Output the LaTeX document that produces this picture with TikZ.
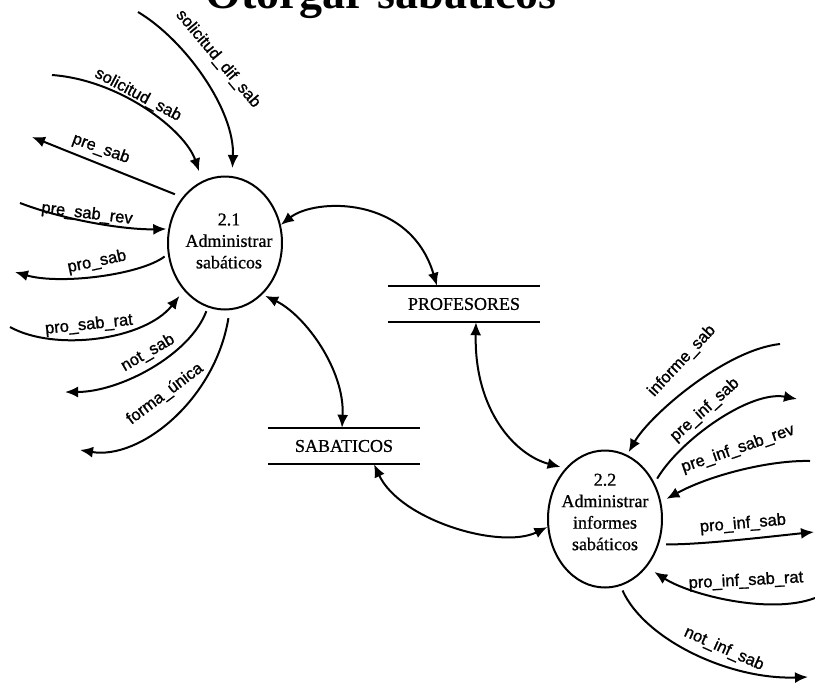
\documentclass[tikz,border=0pt]{standalone}
\usepackage{fontspec}
\setmainfont{Liberation Serif}
\newfontfamily\procfont{Liberation Serif}[FakeBold=0.8]
\newfontfamily\flowfont{Liberation Sans}[FakeBold=1.2]
\usetikzlibrary{arrows.meta,shapes.geometric}

\tikzset{
  >={Latex[length=13pt,width=11pt]},
  proc/.style={ellipse, draw, line width=2pt, minimum width=114pt,
    minimum height=133pt, inner sep=0pt},
  proctext/.style={font=\procfont\fontsize{18}{21.5}\selectfont, align=center, inner sep=0pt},
  store/.style={minimum width=152pt, minimum height=36pt, inner sep=0pt,
    font=\procfont\fontsize{18}{22}\selectfont},
  storeline/.style={line width=1.6pt},
  flow/.style={line width=2pt},
  lbl/.style={font=\flowfont\fontsize{16.5}{19}\selectfont, inner sep=0pt},
  titlestyle/.style={font=\bfseries\fontsize{46}{50}\selectfont, inner sep=0pt}
}

\begin{document}
\begin{tikzpicture}[x=1pt, y=-1pt]
\useasboundingbox (0,0) rectangle (815,686);

% title (its upper part runs off the page)
\node[titlestyle, anchor=base] (title) at (381,8) {Otorgar sabáticos};

% processes
\node[proc, label={[proctext, xshift=4pt, yshift=2pt]center:{2.1\\Administrar\\sabáticos}}] (c1) at (225,243) {};
\node[proc, minimum height=137pt, label={[proctext, yshift=7pt]center:{2.2\\Administrar\\informes\\sabáticos}}] (c2) at (605,519) {};

% data stores
\node[store] (p) at (464,304) {PROFESORES};
\draw[storeline] (p.north west) -- (p.north east) (p.south west) -- (p.south east);
\node[store] (s) at (344,446) {SABATICOS};
\draw[storeline] (s.north west) -- (s.north east) (s.south west) -- (s.south east);

% links between processes and stores
\draw[flow, <->] (c1.18) .. controls (315,198) and (410,195) .. ([xshift=-27pt]p.north);
\draw[flow, <->, shorten <=3pt] (c1.306) .. controls (305,315) and (345,370) .. ([xshift=-2pt]s.north);
\draw[flow, <->, shorten >=5pt] ([xshift=12pt]p.south) .. controls (474,410) and (515,455) .. (c2.128);
\draw[flow, <->] ([xshift=30pt]s.south) .. controls (400,520) and (500,550) .. (c2.188);

% external flows of 2.1
\coordinate (a0) at (138,12);
\coordinate (a1) at (52,75);
\coordinate (a2) at (32,137);
\coordinate (a3) at (20,203);
\coordinate (a4) at (15,272);
\coordinate (a5) at (10,327);
\coordinate (a6) at (65,392);
\coordinate (a7) at (80,450);

\draw[flow, ->, shorten >=8pt] (a0) .. controls (185,40) and (235,110) .. (c1.84);
\draw[flow, ->, shorten >=10pt] (a1) .. controls (120,80) and (185,130) .. (c1.110);
\draw[flow, ->, shorten <=8pt] (c1.133) -- (a2);
\draw[flow, ->, shorten >=2pt] (a3) .. controls (70,222) and (130,230) .. (c1.166);
\draw[flow, ->, shorten <=4pt] (c1.191) .. controls (140,275) and (60,285) .. (a4);
\draw[flow, ->, shorten >=7pt] (a5) .. controls (55,352) and (145,340) .. (c1.229);
\draw[flow, ->, shorten <=4pt] (c1.255) .. controls (190,355) and (120,392) .. (a6);
\draw[flow, ->, shorten <=8pt] (c1.274) .. controls (215,400) and (140,460) .. (a7);

\node[lbl, rotate=-50] (l0) at (218,59) {solicitud\_dif\_sab};
\node[lbl, rotate=-28] (l1) at (138,95) {solicitud\_sab};
\node[lbl, rotate=-20] (l2) at (101,149) {pre\_sab};
\node[lbl, rotate=-7] (l3) at (87,214) {pre\_sab\_rev};
\node[lbl, rotate=12] (l4) at (97,262) {pro\_sab};
\node[lbl, rotate=6] (l5) at (89,325) {pro\_sab\_rat};
\node[lbl, rotate=30] (l6) at (148,353) {not\_sab};
\node[lbl, rotate=37] (l7) at (165,394) {forma\_única};

% external flows of 2.2
\coordinate (b0) at (780,344);
\coordinate (b1) at (797,399);
\coordinate (b2) at (810,461);
\coordinate (b3) at (814,532);
\coordinate (b4) at (815,598);
\coordinate (b5) at (808,677);

\draw[flow, ->, shorten >=3pt] (b0) .. controls (725,350) and (650,415) .. (c2.71);
\draw[flow, ->, shorten <=5pt] (c2.36) .. controls (680,440) and (750,390) .. (b1);
\draw[flow, ->, shorten >=6pt] (b2) .. controls (770,460) and (710,475) .. (c2.17);
\draw[flow, ->, shorten <=7pt] (c2.335) .. controls (700,545) and (775,536) .. (b3);
\draw[flow, ->, shorten >=9pt] (b4) .. controls (770,615) and (690,595) .. (c2.311);
\draw[flow, ->, shorten <=5pt] (c2.283) .. controls (645,640) and (730,680) .. (b5);

\node[lbl, rotate=47] (m0) at (682,361) {informe\_sab};
\node[lbl, rotate=42] (m1) at (705,410) {pre\_inf\_sab};
\node[lbl, rotate=19] (m2) at (738,449) {pre\_inf\_sab\_rev};
\node[lbl, rotate=5] (m3) at (743,524) {pro\_inf\_sab};
\node[lbl, rotate=3] (m4) at (746,581) {pro\_inf\_sab\_rat};
\node[lbl, rotate=-24] (m5) at (724,649) {not\_inf\_sab};
\end{tikzpicture}
\end{document}
